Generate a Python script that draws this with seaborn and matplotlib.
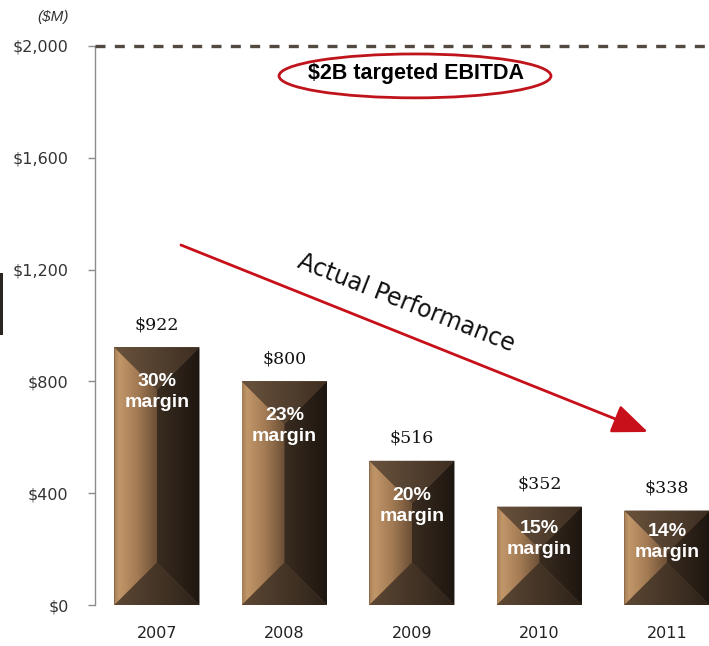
import numpy as np
import matplotlib
matplotlib.use("Agg")
import matplotlib.pyplot as plt
import seaborn as sns
from matplotlib.colors import LinearSegmentedColormap
from matplotlib.patches import Polygon, Ellipse, Rectangle

# EBITDA by year ($M)
years = ["2007", "2008", "2009", "2010", "2011"]
ebitda = [922, 800, 516, 352, 338]
margins = ["30%", "23%", "20%", "15%", "14%"]
target = 2000
yticks = [0, 400, 800, 1200, 1600, 2000]

sns.set_theme(style="white")
plt.rcParams["font.family"] = ["DejaVu Sans"]

W, H = 709, 646
fig = plt.figure(figsize=(W / 100, H / 100), dpi=100)
ax = fig.add_axes([95 / W, 41 / H, 614 / W, 559 / H])

sns.barplot(x=years, y=ebitda, color="#6e533a", width=0.667, saturation=1, ax=ax, zorder=2,
            linewidth=0)
bars = list(ax.patches)
ax.set_xlim(-0.486, 4.33)
ax.set_ylim(0, target)

# beveled look: four shaded facets per bar
px_x = 614 / (4.33 + 0.486)
px_y = 559 / target
cm_left = LinearSegmentedColormap.from_list("l", [(0, "#a57d55"), (0.12, "#c19669"), (0.55, "#a27a53"), (1, "#6b4f36")])
cm_right = LinearSegmentedColormap.from_list("r", ["#3a2c20", "#1d1610"])
cm_top = LinearSegmentedColormap.from_list("t", ["#6a533d", "#3d2e22"])
cm_bot = LinearSegmentedColormap.from_list("b", ["#5e4834", "#2c2219"])
grad = np.linspace(0, 1, 256).reshape(1, -1)

for p in bars:
    x0, w, h = p.get_x(), p.get_width(), p.get_height()
    x1 = x0 + w
    d = min(w * px_x, h * px_y) / 2
    dx, dy = d / px_x, d / px_y
    ix0, ix1, iy0, iy1 = x0 + dx, x1 - dx, dy, h - dy
    xc = x0 + w / 2
    facets = [
        ([(x0, 0), (x0, h), (ix0, iy1), (ix0, iy0)], cm_left, (x0, xc)),
        ([(x1, 0), (x1, h), (ix1, iy1), (ix1, iy0)], cm_right, (xc, x1)),
        ([(x0, h), (x1, h), (ix1, iy1), (ix0, iy1)], cm_top, (x0, x1)),
        ([(x0, 0), (x1, 0), (ix1, iy0), (ix0, iy0)], cm_bot, (x0, x1)),
    ]
    for pts, cm, (ea, eb) in facets:
        poly = Polygon(pts, closed=True, transform=ax.transData)
        im = ax.imshow(grad, cmap=cm, extent=(ea, eb, 0, h), aspect="auto", zorder=3, interpolation="bilinear")
        im.set_clip_path(poly)

ax.set_xlim(-0.486, 4.33)
ax.set_ylim(0, target)

# value labels and margins
for i, (v, m) in enumerate(zip(ebitda, margins)):
    ax.annotate(f"${v:,}", (i, v), xytext=(0, 10), textcoords="offset points",
                ha="center", va="bottom", family="DejaVu Serif", fontsize=12.5, color="#111111", zorder=5)
    off = min(45, 0.33 * v * px_y)
    ax.annotate(f"{m}\nmargin", (i, v), xytext=(0, -off * 72 / 100), textcoords="offset points",
                ha="center", va="center", family="Liberation Sans", fontweight="bold", fontsize=14,
                color="white", linespacing=1.3, zorder=5)

# target line
ax.axhline(target, color="#524a40", lw=2.4, ls=(0, (3, 2.8)), clip_on=False, zorder=4)
ax.add_patch(Ellipse((2.024, 1893), 2.133, 157, fill=False, ec="#c0141c", lw=2, zorder=5))
ax.text(2.031, 1900, "$2B targeted EBITDA", ha="center", va="center", family="Liberation Sans",
        fontweight="bold", fontsize=15.5, color="black", zorder=6)

# trend arrow
ax.annotate("", xy=(3.851, 619), xytext=(0.188, 1288),
            arrowprops=dict(arrowstyle="-|>,head_length=1.1,head_width=0.45", color="#c8101a",
                            lw=2, mutation_scale=20, shrinkA=0, shrinkB=0), zorder=5)
ax.text(1.953, 1080, "Actual Performance", rotation=-21.5, rotation_mode="anchor",
        ha="center", va="center", fontsize=17, color="#111111", zorder=5)

# axes styling
ax.set_xlabel("")
ax.set_ylabel("")
ax.set_yticks(yticks)
ax.set_yticklabels([f"${t:,}" for t in yticks])
for s in ["top", "right", "bottom"]:
    ax.spines[s].set_visible(False)
ax.spines["left"].set_color("#8c8c8c")
ax.spines["left"].set_linewidth(1)
ax.tick_params(axis="y", direction="out", length=5, color="#8c8c8c", width=1,
               labelsize=11.5, labelcolor="#333333", pad=14, left=True)
ax.tick_params(axis="x", length=0, labelsize=11.5, labelcolor="#222222", pad=15)

fig.text(53 / W, 1 - 17 / H, "($M)", ha="center", va="center", style="italic",
         family="Liberation Sans", fontsize=11, color="#333333")
fig.add_artist(Rectangle((0, 1 - 335 / H), 3 / W, 62 / H, transform=fig.transFigure,
                         color="#2a2520", lw=0))

fig.savefig("out.png", dpi=100, facecolor="white")
